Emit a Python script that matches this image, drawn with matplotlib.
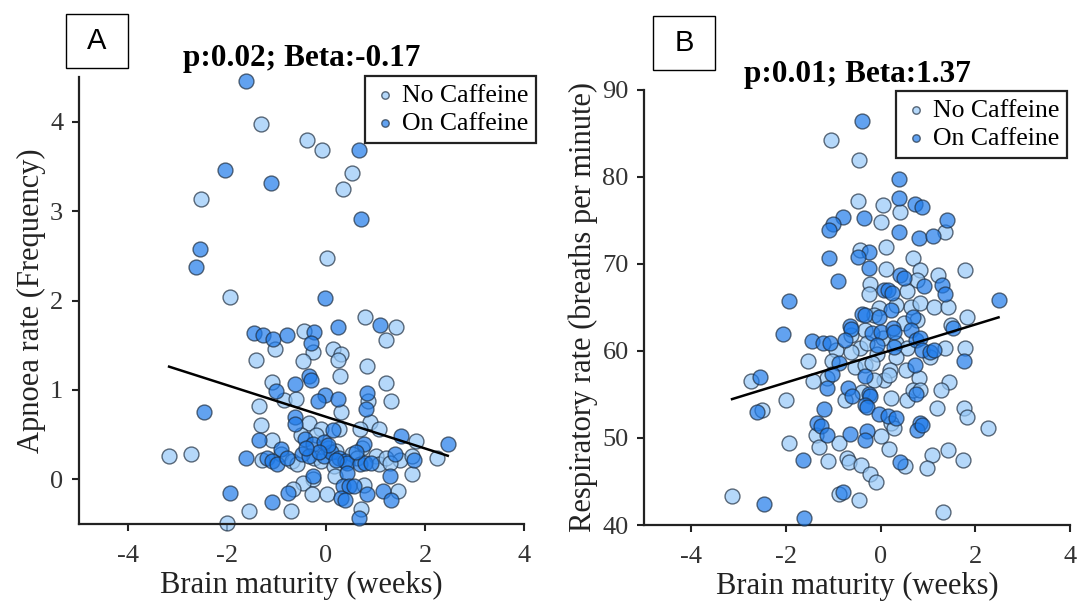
import matplotlib
matplotlib.use("Agg")
import matplotlib.pyplot as plt
from matplotlib.patches import Rectangle
import numpy as np

plt.rcParams["axes.unicode_minus"] = False

# ---------------- data ----------------
# Panel A: Apnoea rate vs brain maturity
a_no_x = [-1.31, -0.375, -0.09, 0.52, 0.35, -2.52, 0.03, -1.93,
          -1.04, -1.42, -0.44, -0.27, -0.46, 0.79, 1.42, 1.21, 0.14, 0.31, 0.25, 0.83, 0.29, -1.10, 1.21,
          -0.85, -0.60, 0.85, 1.31, -1.35, 0.31, -1.31, -0.35, -0.10, 0.27, 0.88, 1.08, 0.69, 1.81, -1.10, 0.73, 0.04,
          -3.17, -2.73, -0.90, -0.69, -0.58, -0.25, -0.10, 0.17, 0.52, 0.63, 1.00, 1.08, 1.21, 1.50, 1.73, 2.25,
          1.73, -0.27, -0.46, 0.19, -0.67, -0.29, 0.02, 0.77, 1.46, -1.55, -0.71, 0.71, -2.00,
          -0.20, 0.20, -0.50, 1.30, -1.30]
a_no_y = [3.97, 3.80, 3.68, 3.43, 3.25, 3.13, 2.47, 2.04,
          1.46, 1.34, 1.66, 1.42, 1.32, 1.82, 1.70, 1.56, 1.46, 1.40, 1.33, 1.27, 1.15, 1.09, 1.08,
          0.89, 0.90, 0.88, 0.88, 0.82, 0.75, 0.61, 0.63, 0.56, 0.56, 0.64, 0.56, 0.56, 0.43, 0.44, 0.35, 0.35,
          0.26, 0.28, 0.28, 0.20, 0.17, 0.24, 0.20, 0.15, 0.28, 0.24, 0.26, 0.17, 0.24, 0.22, 0.26, 0.24,
          0.06, 0.00, -0.04, 0.04, -0.11, -0.16, -0.17, -0.06, -0.13, -0.36, -0.35, -0.33, -0.49,
          0.50, 0.32, 0.50, 0.18, 0.22]
a_on_x = [-1.62, 0.67, -2.04, -1.12, 0.71, -2.54, -2.62, -0.03,
          -1.46, -1.27, -1.08, -0.79, -0.25, -0.31, 0.25, 1.10,
          -0.35, -0.31, -0.63, -1.02, -0.02, -0.17, 0.25, 0.83,
          -2.46, 0.81, -0.63, -0.63, 1.52, 2.46, -1.35, -0.42, -0.27, 0.77, -0.90,
          -1.62, -1.19, -1.10, -1.00, -0.79, -0.48, -0.35, -0.04, 0.10, 0.27, 0.38, 0.42, 0.69, 0.79, 0.90, 1.40, 1.77,
          1.29, -0.27, 0.42, -1.94, -0.77, 0.35, 0.46, 0.56, 0.83, 1.15, 0.31, 0.38, 1.31, -1.10, 0.67,
          -0.05, 0.05, -0.15, 0.15, -0.40, 0.60, 0.20]
a_on_y = [4.46, 3.68, 3.46, 3.31, 2.91, 2.58, 2.37, 2.03,
          1.64, 1.61, 1.57, 1.61, 1.65, 1.53, 1.70, 1.73,
          1.15, 1.11, 1.07, 0.99, 0.94, 0.88, 0.90, 0.97,
          0.75, 0.79, 0.70, 0.62, 0.48, 0.40, 0.44, 0.45, 0.39, 0.40, 0.34,
          0.24, 0.24, 0.20, 0.17, 0.24, 0.28, 0.26, 0.26, 0.31, 0.24, 0.20, 0.18, 0.17, 0.18, 0.18, 0.28, 0.22,
          0.04, 0.04, 0.07, -0.15, -0.15, -0.08, -0.08, -0.07, -0.16, -0.13, -0.21, -0.23, -0.23, -0.25, -0.43,
          0.42, 0.38, 0.30, 0.55, 0.35, 0.30, 0.22]
a_title = "p:0.02; Beta:-0.17"
a_fit = (0.699, -0.177)   # intercept, slope of drawn fit line

# Panel B: Respiratory rate vs brain maturity
b_on_x = [-0.40, 0.38, 0.39, 0.73, 0.87, -0.80, -0.36, 1.40, -1.00, -1.10, 0.38, 0.80, 1.11, -0.24, -0.47, -1.10,
          -0.24, -0.91, 0.40, 0.49, 0.91, 1.29, 0.06, 0.15, 0.24, 1.35, -1.94, 2.49,
          0.22, -0.40, -0.34, -0.04, 0.69, 1.53, -0.65, -0.62, -0.18, 0.00, 0.25, 0.29, 0.65, -2.06, -1.45, -1.22,
          -1.07, -0.76, -0.07, 0.29, 0.75, 0.84, 0.87, 1.05, 1.13, 1.77, -0.87, 0.73, -0.33, -1.02, -2.55, -1.13,
          -0.69, -0.60, -0.25, -0.22, -0.33, -0.29, 0.75, -2.62, -1.19, -0.04, 0.15, 0.33, -1.35, -1.27, -1.13,
          -0.65, -0.29, -0.33, 0.84, 0.76, 0.87, -1.64, 0.40, -0.80, -2.47, -1.62]
b_on_y = [86.4, 79.8, 77.6, 76.9, 76.5, 75.4, 75.3, 75.1, 74.6, 73.9, 73.7, 73.0, 73.2, 71.4, 70.8, 70.7,
          69.5, 68.0, 68.7, 68.4, 67.5, 67.6, 67.0, 67.0, 66.7, 66.5, 65.7, 65.9,
          64.7, 64.3, 64.1, 63.9, 63.9, 62.6, 62.9, 62.5, 62.1, 62.2, 62.6, 62.2, 62.4, 62.0, 61.1, 60.9,
          60.9, 61.3, 60.7, 60.5, 61.3, 61.5, 60.1, 59.9, 60.1, 58.8, 58.6, 58.4, 57.1, 57.4, 57.0, 55.7,
          55.8, 54.8, 55.1, 54.8, 53.8, 53.6, 55.1, 53.0, 53.3, 52.8, 52.5, 52.3, 51.7, 51.4, 50.3,
          50.5, 50.8, 49.8, 51.7, 50.9, 51.5, 47.5, 47.2, 43.8, 42.4, 40.8]
b_no_x = [-1.05, -0.46, -0.47, 0.04, 0.41, 0.00, 1.35, 0.11, -0.44, 0.69, 0.12, 0.84, 1.78, -0.22, 0.76, 1.21,
          0.56, -0.25, 0.65, 0.84, 1.13, 1.42, 0.33, -0.04, -0.15, 0.76, 1.82, 1.49, -0.33, 0.49, -0.62, -0.95,
          -0.44, -0.62, -0.29, 0.04, 0.33, 0.55, 1.05, 1.35, 1.78, -0.07, 0.33, -1.53, -1.02, -0.55, -0.33, -0.18,
          0.20, 0.53, 0.06, 0.18, -1.14, -0.15, 0.80, -2.73, -1.43, -0.76, -0.40, 0.22, 0.55, 0.68, 0.84, 1.45,
          1.27, -2.00, -2.51, 0.22, 0.29, 1.20, 1.77, 1.82, 2.27, -1.36, 0.00, -1.93, -1.31, -0.87, 0.18, 1.42,
          1.09, 1.73, -1.11, -0.71, -0.67, -0.42, 0.51, 0.98, -0.22, -0.09, -0.89, -0.46, -3.14, 1.32]
b_no_y = [84.3, 82.0, 77.2, 76.8, 76.0, 74.8, 73.7, 72.0, 71.6, 70.7, 69.4, 69.3, 69.3, 67.7, 68.2, 68.7,
          66.9, 66.5, 65.1, 65.5, 65.1, 65.1, 65.3, 64.9, 64.1, 63.6, 63.9, 63.0, 62.4, 63.2, 61.8, 60.1,
          60.3, 59.9, 60.9, 61.5, 60.9, 60.3, 59.3, 60.3, 60.3, 59.7, 59.3, 58.9, 58.8, 58.2, 58.4, 58.6,
          57.8, 57.8, 56.7, 57.2, 56.9, 56.7, 56.9, 56.5, 56.5, 54.4, 55.3, 54.6, 54.4, 55.5, 55.5, 56.4,
          55.5, 54.4, 53.2, 51.7, 51.1, 53.4, 53.4, 52.4, 51.1, 50.4, 50.2, 49.4, 49.0, 49.4, 48.7, 48.6,
          48.0, 47.5, 47.4, 47.7, 47.2, 46.9, 46.8, 46.5, 45.9, 44.9, 43.6, 42.9, 43.3, 41.5]
b_title = "p:0.01; Beta:1.37"
b_fit = (59.71, 1.669)

labels = ["No Caffeine", "On Caffeine"]
xticks = [-4, -2, 0, 2, 4]

# ---------------- style ----------------
W, H = 1077, 606
fig = plt.figure(figsize=(W / 100, H / 100), dpi=100)
serif = ["Liberation Serif", "DejaVu Serif"]
no_col = "#96c8f8"
on_col = "#1f7bea"
edge = (0.12, 0.18, 0.25, 0.75)


def px_axes(x0, x1, ytop, ybot):
    return fig.add_axes([x0 / W, 1 - ybot / H, (x1 - x0) / W, (ybot - ytop) / H])


def panel(ax, nx, ny, ox, oy, fit, title, ylabel, ylim, yticks, legend_px, title_pad):
    ax.scatter(nx, ny, s=115, facecolor=no_col, alpha=0.7, edgecolor=edge, linewidth=1.0,
               label=labels[0], clip_on=False, zorder=2)
    ax.scatter(ox, oy, s=115, facecolor=on_col, alpha=0.7, edgecolor=edge, linewidth=1.0,
               label=labels[1], clip_on=False, zorder=3)
    allx = np.array(list(nx) + list(ox))
    lx = np.array([allx.min(), allx.max()])
    ax.plot(lx, fit[0] + fit[1] * lx, color="black", lw=1.8, zorder=4)
    ax.set_xlim(-5, 4)
    ax.set_ylim(*ylim)
    ax.set_xticks(xticks)
    ax.set_yticks(yticks)
    for s in ["top", "right"]:
        ax.spines[s].set_visible(False)
    for s in ["left", "bottom"]:
        ax.spines[s].set_linewidth(1.6)
        ax.spines[s].set_color("#222222")
    ax.tick_params(direction="out", length=5, width=1.5, colors="#222222", labelsize=19,
                   labelcolor="#333333", pad=6)
    ax.tick_params(axis="x", pad=10)
    for t in ax.get_xticklabels() + ax.get_yticklabels():
        t.set_fontfamily(serif)
    ax.set_xlabel("Brain maturity (weeks)", fontsize=22, family=serif, color="#222222", labelpad=3)
    ax.set_ylabel(ylabel, fontsize=22, family=serif, color="#222222", labelpad=3)
    ax.set_title(title, fontsize=22.5, family=serif, fontweight="bold", pad=title_pad)
    lx0, ly0 = legend_px
    leg = ax.legend(loc="upper right", bbox_to_anchor=(lx0 / W, 1 - ly0 / H),
                    bbox_transform=fig.transFigure, borderaxespad=0, fancybox=False,
                    edgecolor="#222222", framealpha=1, markerscale=0.5, handletextpad=0.15,
                    handlelength=1.0, borderpad=0.3, labelspacing=0.2,
                    prop={"family": serif, "size": 18.5})
    leg.get_frame().set_linewidth(1.6)


axA = px_axes(78.5, 524, 77, 524)
panel(axA, a_no_x, a_no_y, a_on_x, a_on_y, a_fit, a_title, "Apnoea rate (Frequency)",
      (-0.5, 4.5), [0, 1, 2, 3, 4], (536, 76), 8)

axB = px_axes(644, 1070, 90, 525)
panel(axB, b_no_x, b_no_y, b_on_x, b_on_y, b_fit, b_title, "Respiratory rate (breaths per minute)",
      (40, 90), [40, 50, 60, 70, 80, 90], (1067, 91), 6)

# panel letters in boxes
for letter, (x0, y0, x1, y1) in [("A", (66, 14, 128, 68)), ("B", (653, 16, 715, 70))]:
    fig.add_artist(Rectangle((x0 / W, 1 - y1 / H), (x1 - x0) / W, (y1 - y0) / H,
                             transform=fig.transFigure, fill=False, edgecolor="black", lw=1.0))
    fig.text((x0 + x1) / 2 / W, 1 - (y0 + y1) / 2 / H, letter, ha="center", va="center",
             fontsize=21, family=["Liberation Sans", "DejaVu Sans"])

fig.savefig("out.png", dpi=100)
